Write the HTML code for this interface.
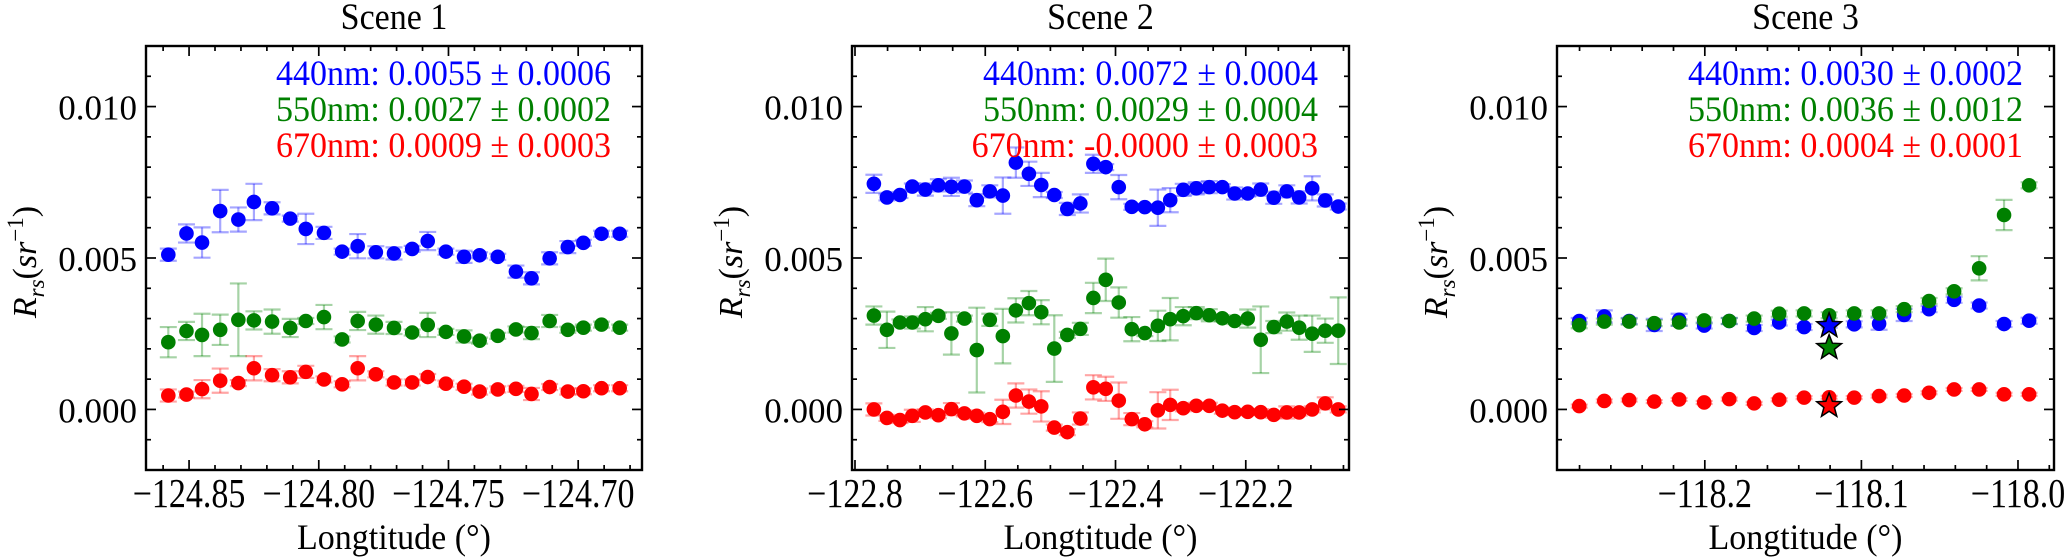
<!DOCTYPE html>
<html><head><meta charset="utf-8">
<style>
html,body{margin:0;padding:0;background:#fff;}
svg{display:block;font-family:"Liberation Serif","DejaVu Serif",serif;}
</style></head>
<body>
<svg id="chart" width="2067" height="559" viewBox="0 0 2067 559" xmlns="http://www.w3.org/2000/svg"></svg>
<script>
// ---- Scene 1 data ----
const lon1 = [-124.858,-124.851,-124.845,-124.838,-124.831,-124.825,-124.818,-124.811,-124.805,-124.798,-124.791,-124.785,-124.778,-124.771,-124.764,-124.758,-124.751,-124.744,-124.738,-124.731,-124.724,-124.718,-124.711,-124.704,-124.698,-124.691,-124.684];
const b1 = [.00511,.00581,.00551,.00655,.00627,.00685,.00664,.0063,.00596,.00583,.00521,.00539,.00519,.00515,.0053,.00556,.00521,.00504,.00509,.00504,.00455,.00433,.00499,.00536,.0055,.0058,.0058];
const g1 = [.00222,.00259,.00246,.00263,.00296,.00294,.0029,.00269,.00292,.00305,.00231,.00292,.0028,.00269,.00254,.00279,.00256,.00241,.00227,.00243,.00264,.00252,.00292,.00263,.0027,.0028,.0027];
const r1 = [.00046,.00049,.00067,.00095,.00087,.00136,.00113,.00106,.00124,.00099,.00083,.00136,.00116,.00089,.00089,.00107,.00085,.00075,.00059,.00066,.00068,.00051,.00074,.00059,.0006,.0007,.0007];
const be1 = [.0002,.0003,.0005,.0007,.0004,.0006,.0002,.0001,.0005,.0002,.0001,.0004,.0002,.0002,.0001,.0003,.0001,.0002,.0001,.0001,.0002,.0002,.0002,.0002,.0001,.0001,.0001];
const ge1 = [.0005,.0003,.0007,.0005,.0012,.0003,.0004,.0003,.0001,.0004,.0001,.0003,.0003,.0002,.0001,.0004,.0001,.0002,.0001,.0001,.0001,.0002,.0002,.0001,.0001,.0001,.0001];
const re1 = [.0002,.0001,.0003,.0004,.0001,.0004,.0002,.0002,.0002,.0001,.0001,.0004,.0001,.0001,.0001,.0001,.0001,.0001,.0001,.0001,.0001,.0002,.0001,.0001,.0001,.0001,.0001];
// ---- Scene 2 data ----
const lon2 = [-122.771,-122.751,-122.731,-122.712,-122.692,-122.672,-122.652,-122.632,-122.613,-122.593,-122.573,-122.553,-122.533,-122.514,-122.494,-122.474,-122.454,-122.434,-122.415,-122.395,-122.375,-122.355,-122.335,-122.316,-122.296,-122.276,-122.256,-122.236,-122.217,-122.197,-122.177,-122.157,-122.137,-122.118,-122.098,-122.078,-122.058];
const b2 = [.00745,.0070,.00708,.00736,.00726,.0074,.00735,.00736,.00691,.0072,.00706,.00815,.00778,.00741,.00708,.00662,.0068,.00811,.008,.00734,.00669,.00668,.00666,.00691,.00725,.0073,.00734,.00734,.00713,.00713,.00726,.00699,.0072,.0070,.0073,.0069,.0067];
const g2 = [.0031,.00263,.00287,.00287,.00298,.00309,.00251,.003,.00196,.00296,.00242,.00327,.00351,.00321,.00201,.00246,.00266,.00368,.00428,.00353,.00265,.00252,.00276,.00298,.00308,.00318,.00311,.00301,.00292,.003,.0023,.00272,.0029,.0027,.0025,.0026,.0026];
const r2 = [0,-.00028,-.00035,-.00021,-.0001,-.00019,.00001,-.00013,-.00021,-.00032,-.00008,.00046,.00026,.0001,-.0006,-.00075,-.0003,.00073,.00068,.00029,-.00032,-.00049,-.00003,.00015,.00004,.00012,.00012,-.00004,-.00009,-.00008,-.00009,-.00018,-.0001,-.0001,0,.0002,0];
const be2 = [.0003,.0001,.0001,.0001,.0002,.0002,.0003,.0002,.0002,.0002,.0006,.0005,.0004,.0004,.0001,.0002,.0003,.0003,.0001,.0004,.0001,.0001,.0006,.0004,.0002,.0002,.0002,.0001,.0002,.0001,.0002,.0002,.0002,.0002,.0004,.0002,.0001];
const ge2 = [.0003,.0006,.0001,.0002,.0004,.0001,.0007,.0001,.0014,.0002,.0009,.0004,.0004,.0004,.0011,.0001,.0002,.0005,.0007,.0005,.0004,.0001,.0005,.0007,.0003,.0002,.0002,.0001,.0001,.0003,.0011,.0002,.0003,.0004,.0006,.0004,.0011];
const re2 = [.0002,.0001,.0001,.0002,.0001,.0001,.0002,.0001,.0001,.0001,.0004,.0004,.0004,.0005,.0001,.0001,.0002,.0004,.0004,.0006,.0002,.0001,.0006,.0005,.0001,.0001,.0001,.0001,.0001,.0001,.0001,.0001,.0002,.0001,.0001,.0002,.0001];
// ---- Scene 3 data ----
const lon3 = [-118.2802,-118.2642,-118.2483,-118.2323,-118.2164,-118.2004,-118.1844,-118.1685,-118.1525,-118.1366,-118.1206,-118.1046,-118.0887,-118.0727,-118.0568,-118.0408,-118.0248,-118.0089,-117.9929];
const b3 = [.00292,.00307,.00292,.00279,.00296,.00277,.00292,.00269,.00287,.00272,.0028,.00281,.00283,.00312,.00331,.00362,.00343,.00282,.00293];
const g3 = [.00278,.0029,.0029,.00285,.00287,.00294,.00292,.003,.00316,.00317,.00311,.00317,.00317,.00331,.00358,.0039,.00466,.00642,.0074];
const r3 = [.00011,.00028,.00031,.00026,.00033,.00023,.00034,.0002,.00032,.00039,.0004,.00039,.00044,.00046,.00055,.00066,.00066,.0005,.0005];
const be3 = [.0001,.0002,.0001,.0002,.0002,.0001,.0001,.0001,.0001,.0001,.0001,.0001,.0002,.0002,.0001,.0001,.0001,.0001,.0001];
const ge3 = [.0001,.0001,.0001,.0001,.0001,.0001,.0001,.0001,.0001,.0001,.0001,.0001,.0001,.0001,.0001,.0001,.0004,.0005,.0001];
const re3 = [.00005,.00005,.00005,.00005,.00005,.00005,.00005,.00005,.00005,.00005,.00005,.00005,.00005,.00005,.00005,.00005,.00005,.00005,.00005];
const starLon3 = -118.1206;
const starVals3 = [.00276,.00204,.00012];
// ---- labels ----
const titles = ["Scene 1","Scene 2","Scene 3"];
const annot1 = ["440nm: 0.0055 \u00b1 0.0006","550nm: 0.0027 \u00b1 0.0002","670nm: 0.0009 \u00b1 0.0003"];
const annot2 = ["440nm: 0.0072 \u00b1 0.0004","550nm: 0.0029 \u00b1 0.0004","670nm: -0.0000 \u00b1 0.0003"];
const annot3 = ["440nm: 0.0030 \u00b1 0.0002","550nm: 0.0036 \u00b1 0.0012","670nm: 0.0004 \u00b1 0.0001"];
const xTicks1 = [-124.85,-124.80,-124.75,-124.70];
const xTickLabels1 = ["\u2212124.85","\u2212124.80","\u2212124.75","\u2212124.70"];
const xTicks2 = [-122.8,-122.6,-122.4,-122.2];
const xTickLabels2 = ["\u2212122.8","\u2212122.6","\u2212122.4","\u2212122.2"];
const xTicks3 = [-118.2,-118.1,-118.0];
const xTickLabels3 = ["\u2212118.2","\u2212118.1","\u2212118.0"];
const yTicks = [0,0.005,0.010];
const yTickLabels = ["0.000","0.005","0.010"];

const NS = "http://www.w3.org/2000/svg";
const svg = document.getElementById('chart');
function mk(tag, attrs, parent){ const e=document.createElementNS(NS,tag); for(const k in attrs) e.setAttribute(k,attrs[k]); (parent||svg).appendChild(e); return e; }

const COLORS = ["#0000ff","#008000","#ff0000"];
const ERRC = ["rgba(0,0,255,0.35)","rgba(0,128,0,0.35)","rgba(255,0,0,0.35)"];
const panels = [
 {L:146,R:642,x0:-124.8666,x1:-124.6754,lon:lon1,vals:[b1,g1,r1],errs:[be1,ge1,re1],annot:annot1,xt:xTicks1,xtl:xTickLabels1,minor:0.01,star:null},
 {L:852,R:1349,x0:-122.8046,x1:-122.0415,lon:lon2,vals:[b2,g2,r2],errs:[be2,ge2,re2],annot:annot2,xt:xTicks2,xtl:xTickLabels2,minor:0.05,star:null},
 {L:1557,R:2054,x0:-118.2944,x1:-117.977,lon:lon3,vals:[b3,g3,r3],errs:[be3,ge3,re3],annot:annot3,xt:xTicks3,xtl:xTickLabels3,minor:0.02,star:true}
];
const T=46,B=470,Y0=-0.002,Y1=0.012;
function starPts(cx,cy,ro,ri){let p=[];for(let i=0;i<10;i++){const a=-Math.PI/2+i*Math.PI/5;const r=i%2?ri:ro;p.push((cx+r*Math.cos(a)).toFixed(1)+","+(cy+r*Math.sin(a)).toFixed(1));}return p.join(" ");}
function stext(parent,x,y,size,anchor,sy,fill){
  return mk('text',{x:0,y:0,'text-anchor':anchor,'font-size':size,fill:fill||'#000',transform:`translate(${x},${y}) scale(1,${sy})`},parent);
}

panels.forEach((P,pi)=>{
  const sx=v=>P.L+(v-P.x0)/(P.x1-P.x0)*(P.R-P.L);
  const sy=v=>B-(v-Y0)/(Y1-Y0)*(B-T);
  const g=mk('g',{});
  
  
  const t=stext(g,(P.L+P.R)/2,29,34,'middle',1.08);
  t.textContent=titles[pi];
  
  
  [0,1,2].forEach(s=>{
    const sg=mk('g',{},g);
    
    
    P.lon.forEach((lo,i)=>{
      const x=sx(lo), v=P.vals[s][i], e=P.errs[s][i];
      const ya=sy(v+e), yb=sy(v-e);
      mk('line',{x1:x,y1:ya,x2:x,y2:yb,stroke:ERRC[s],'stroke-width':2.2},sg);
      mk('line',{x1:x-8.5,y1:ya,x2:x+8.5,y2:ya,stroke:ERRC[s],'stroke-width':2.2},sg);
      mk('line',{x1:x-8.5,y1:yb,x2:x+8.5,y2:yb,stroke:ERRC[s],'stroke-width':2.2},sg);
    });
    P.lon.forEach((lo,i)=>{
      const c=mk('circle',{cx:sx(lo),cy:sy(P.vals[s][i]),r:7.3,fill:COLORS[s]},sg);
      
      
    });
  });
  if(P.star){
    starVals3.forEach((v,s)=>{
      const st=mk('polygon',{points:starPts(sx(starLon3),sy(v),13,5.5),fill:COLORS[s],stroke:'#000','stroke-width':1.5},g);
      
      
    });
  }
  const fr=mk('rect',{x:P.L,y:T,width:P.R-P.L,height:B-T,fill:'none',stroke:'#000','stroke-width':2.4},g);
  
  
  for(let k=-2;k<=12;k++){
    const v=k*0.001, y=sy(v), major=(k%5===0), len=major?10:5;
    mk('line',{x1:P.L,y1:y,x2:P.L+len,y2:y,stroke:'#000','stroke-width':1.7},g);
    mk('line',{x1:P.R,y1:y,x2:P.R-len,y2:y,stroke:'#000','stroke-width':1.7},g);
  }
  yTicks.forEach((v,i)=>{
    const tl=stext(g,P.L-9,sy(v)+13,35,'end',1.0);
    tl.textContent=yTickLabels[i];
    
    
  });
  const n0=Math.ceil(P.x0/P.minor-1e-6), n1=Math.floor(P.x1/P.minor+1e-6);
  for(let n=n0;n<=n1;n++){
    const v=n*P.minor, x=sx(v);
    const major=P.xt.some(m=>Math.abs(m-v)<1e-6) || (pi===1 && Math.abs(Math.round(v*10)/10-v)<1e-6 && Math.round(v*10)%2===0);
    const len=major?10:5;
    mk('line',{x1:x,y1:B,x2:x,y2:B-len,stroke:'#000','stroke-width':1.7},g);
    mk('line',{x1:x,y1:T,x2:x,y2:T+len,stroke:'#000','stroke-width':1.7},g);
  }
  P.xt.forEach((v,i)=>{
    const tl=stext(g,sx(v),507,34,'middle',1.2);
    tl.textContent=P.xtl[i];
    
    
  });
  const xl=stext(g,(P.L+P.R)/2,549,34,'middle',1.05);
  xl.textContent="Longtitude (\u00b0)";
  
  
  const yl=mk('text',{x:0,y:0,'text-anchor':'middle','font-size':34,transform:`translate(${P.L-110},262) rotate(-90)`},g);
  yl.innerHTML='<tspan font-style="italic">R</tspan><tspan font-style="italic" font-size="23" dy="8">rs</tspan><tspan dy="-8">(</tspan><tspan font-style="italic">sr</tspan><tspan font-size="23" dy="-13">\u22121</tspan><tspan dy="13">)</tspan>';
  
  
  P.annot.forEach((s,i)=>{
    const a=stext(g,P.R-31,85+i*36,34,'end',1.05,COLORS[i]);
    a.textContent=s;
    
    
  });
});
</script>
</body></html>
